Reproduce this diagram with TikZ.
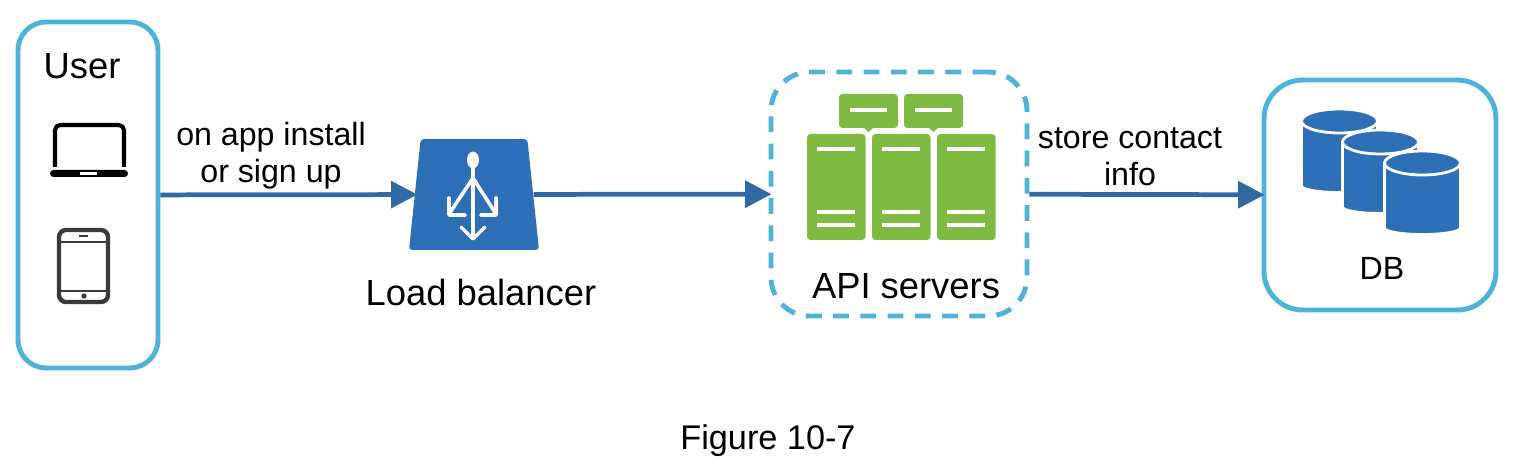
\documentclass[tikz,border=0pt]{standalone}
\usepackage{fontspec}
\setmainfont{Liberation Sans}
\usetikzlibrary{arrows.meta, positioning, shapes.geometric}
\definecolor{boxblue}{HTML}{4DB3D9}
\definecolor{linkblue}{HTML}{2F6AA3}
\definecolor{iconblue}{HTML}{2E70B7}
\definecolor{srvgreen}{HTML}{7FBA42}
\definecolor{tabgrey}{HTML}{3A3A3A}
\tikzset{
	panel/.style={draw=boxblue, line width=2.8pt, fill=white},
	link/.style={draw=linkblue, line width=2.7pt, shorten >=-1.7pt, -{Triangle[length=15pt, width=15pt]}},
	bigtext/.style={font=\fontsize{20.7}{25}\selectfont, inner sep=0pt},
	smalltext/.style={font=\fontsize{18.3}{21}\selectfont, inner sep=0pt, align=center},
	lbline/.style={draw=white, line width=2pt, line cap=round, line join=round},
	srv/.style={fill=srvgreen, rounded corners=2pt},
	srvline/.style={draw=white, line width=2.2pt}
}
\begin{document}
\begin{tikzpicture}[x=0.02cm, y=-0.02cm]
	\useasboundingbox[fill=white] (0, 0) rectangle (1526, 476);

	% the boxes
	\node[panel, rounded corners=16pt, minimum width=2.8cm, minimum height=6.92cm] (user) at (88, 195) {};
	\node[panel, dash pattern=on 9pt off 6.5pt, rounded corners=22pt, minimum width=5.12cm, minimum height=4.88cm] (api) at (899, 194) {};
	\node[panel, rounded corners=22pt, minimum width=4.64cm, minimum height=4.6cm] (db) at (1380, 195) {};
	\node[trapezium, fill=iconblue, trapezium angle=84, rounded corners=2pt, inner sep=1pt, minimum width=2.48cm, minimum height=2.22cm] (lb) at (474, 194.5) {\phantom{x}};

	% laptop
	\draw[black, line width=2.3pt, rounded corners=3pt] (55, 167) -- (55, 125) -- (124, 125) -- (124, 167);
	\fill[black, rounded corners=2pt] (50, 170) rectangle (128, 177);
	\fill[white] (80, 172) rectangle (97, 175);

	% tablet
	\draw[tabgrey, line width=2.5pt, rounded corners=4pt] (59, 230) rectangle (108, 302);
	\draw[tabgrey, line width=1.5pt] (59, 242) -- (108, 242);
	\draw[tabgrey, line width=1.5pt] (59, 291) -- (108, 291);
	\draw[tabgrey, line width=1.2pt] (79, 236) -- (88, 236);
	\fill[tabgrey] (84, 296) circle (1.5pt);

	% load balancer icon
	\fill[white] (473, 160) ellipse [x radius=3.4pt, y radius=4.8pt];
	\draw[lbline] (473, 165) -- (473, 238);
	\draw[lbline] (473, 178) -- (449, 214);
	\draw[lbline] (473, 178) -- (496, 214);
	\draw[lbline] (449, 198) -- (449, 215) -- (465, 215);
	\draw[lbline] (496, 198) -- (496, 215) -- (481, 215);
	\draw[lbline] (461, 227) -- (473, 239) -- (485, 227);

	% servers
	\foreach \sx in {839, 904} {
		\fill[srv] (\sx, 94) rectangle ++(59, 34);
		\fill[srvgreen] (\sx+24, 127) -- (\sx+35, 127) -- (\sx+29.5, 132) -- cycle;
		\draw[srvline] (\sx+11, 110) -- ++(37, 0);
	}
	\foreach \sx in {807, 872, 937} {
		\fill[srv] (\sx, 134) rectangle ++(58.5, 106);
		\draw[srvline] (\sx+10, 149) -- ++(38, 0);
		\draw[srvline] (\sx+10, 212) -- ++(38, 0);
		\draw[srvline] (\sx+10, 225) -- ++(38, 0);
	}

	% cylinders, back to front
	\foreach \cx/\ctop/\cbot in {1339.5/121/186, 1380.5/142/207, 1422.5/163/228} {
		\fill[iconblue, draw=white, line width=1.6pt] (\cx-38, \ctop) -- (\cx-38, \cbot) arc[start angle=180, end angle=360, x radius=0.76cm, y radius=0.13cm] -- (\cx+38, \ctop) -- cycle;
		\fill[iconblue, draw=white, line width=1.6pt] (\cx, \ctop) ellipse [x radius=0.76cm, y radius=0.24cm];
	}

	% connectors
	\draw[link] (user) -- (lb);
	\draw[link] (lb) -- (api);
	\draw[link] (api) -- (db);

	% labels
	\node[bigtext] (usertxt) at (82, 66) {User};
	\node[smalltext] (installtxt) at (271, 156) {on app install\\or sign up};
	\node[bigtext] (lbtxt) at (481, 293) {Load balancer};
	\node[bigtext] (apitxt) at (906, 286) {API servers};
	\node[smalltext] (storetxt) at (1130, 157) {store contact\\info};
	\node[smalltext] (dbtxt) at (1382, 268) {DB};
	\node[font=\fontsize{19.5}{24}\selectfont, inner sep=0pt] (figtxt) at (768, 441) {Figure 10-7};
\end{tikzpicture}
\end{document}
